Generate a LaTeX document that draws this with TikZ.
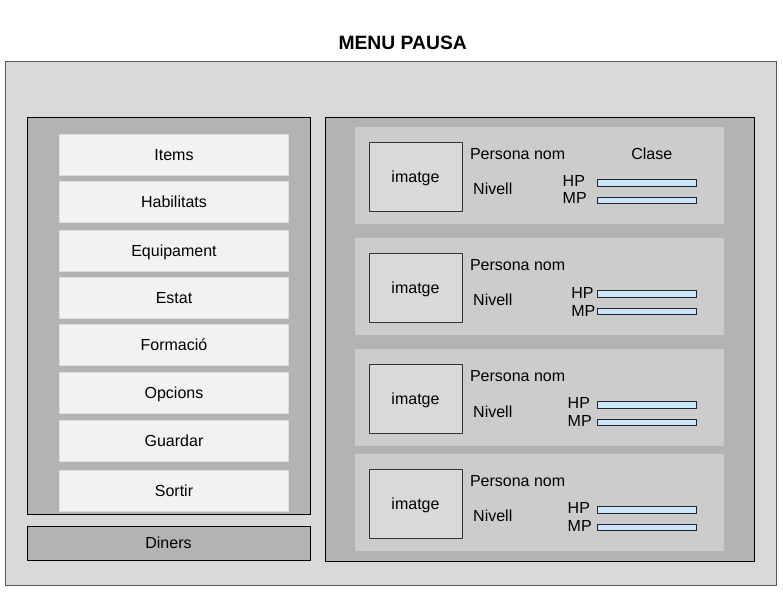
\documentclass[tikz,border=0pt]{standalone}
\usepackage{fontspec}
\setmainfont{Liberation Sans}
\usepackage{tikz}
\usetikzlibrary{positioning}

\definecolor{fonsgris}{HTML}{D9D9D9}
\definecolor{panellgris}{HTML}{B3B3B3}
\definecolor{botogris}{HTML}{F2F2F2}
\definecolor{voraboto}{HTML}{DDDDDD}
\definecolor{targetagris}{HTML}{CCCCCC}
\definecolor{barrablava}{HTML}{CCE5FF}

\tikzset{
  caixa/.style={draw, anchor=north west, inner sep=0pt, outer sep=0pt},
  boto/.style={caixa, draw=voraboto, fill=botogris, line width=1pt},
  targeta/.style={caixa, draw=none, fill=targetagris},
  imatgebox/.style={caixa, draw=black!80, fill=fonsgris, line width=1pt},
  barra/.style={caixa, draw=black!85, fill=barrablava, line width=1pt,
    minimum width=99pt, minimum height=6.5pt},
  txt/.style={inner sep=0pt, text height=11.5pt, text depth=0pt, font=\fontsize{16}{18}\selectfont},
}

\begin{document}
\begin{tikzpicture}[x=1pt,y=-1pt]
	\useasboundingbox (0,0) rectangle (783,602);
	% titol
	\node[inner sep=0pt, text height=13.8pt, text depth=0pt, font=\fontsize{19.3}{22}\selectfont\bfseries] (titol) at (402.7,42.7) {MENU PAUSA};
	% fons
	\node[caixa, draw=black!65, fill=fonsgris, line width=1pt, minimum width=771.5pt, minimum height=524pt] (fons) at (5,61) {};
	% menu esquerra
	\node[caixa, fill=panellgris, line width=1pt, minimum width=283pt, minimum height=397pt] (menu) at (27,117) {};
	\foreach \y/\nom [count=\i] in {134/Items,181/Habilitats,230/Equipament,277/Estat,324/Formació,372/Opcions,420/Guardar,470/Sortir}
	\node[boto, minimum width=229pt, minimum height=41pt] (boto\i) at (59.5,\y) {};
	\foreach \y/\nom [count=\i] in {134/Items,181/Habilitats,230/Equipament,277/Estat,324/Formació,372/Opcions,420/Guardar,470/Sortir}
	\node[txt] (botonom\i) at (boto\i.center) {\nom};
	\node[caixa, fill=panellgris, line width=1pt, minimum width=283pt, minimum height=34pt] (diners) at (27,526) {};
	\node[txt] (dinersnom) at (diners.center) {Diners};
	% personatges
	\node[caixa, fill=panellgris, line width=1pt, minimum width=429pt, minimum height=444pt] (grup) at (325,117) {};
	\foreach \y/\hx/\dy [count=\i] in {127/563.3/0,238/572/1.5,349.3/568.3/0,454/568.3/0.3}{
	 \node[targeta, minimum width=369pt, minimum height=96.5pt] (pj\i) at (355,\y) {};
	 \node[imatgebox, minimum width=93pt, minimum height=69.5pt] (img\i) at (369,\y+15) {};
	 \node[txt] (imgnom\i) at (img\i.center) {imatge};
	 \node[txt, anchor=west] (nom\i) at (469.8,\y+26.5) {Persona nom};
	 \node[txt, anchor=west] (nivell\i) at (473,\y+62.2) {Nivell};
	 \node[barra] (hp\i) at (597,\y+52.5) {};
	 \node[barra] (mp\i) at (597,\y+70) {};
	 \node[txt, anchor=west] (hpnom\i) at (\hx-0.8,\y+53.5+\dy) {HP};
	 \node[txt, anchor=west] (mpnom\i) at (\hx-0.8,\y+71+\dy) {MP};
	}
	\node[txt] (clase) at (651.7,153.3) {Clase};
\end{tikzpicture}
\end{document}
